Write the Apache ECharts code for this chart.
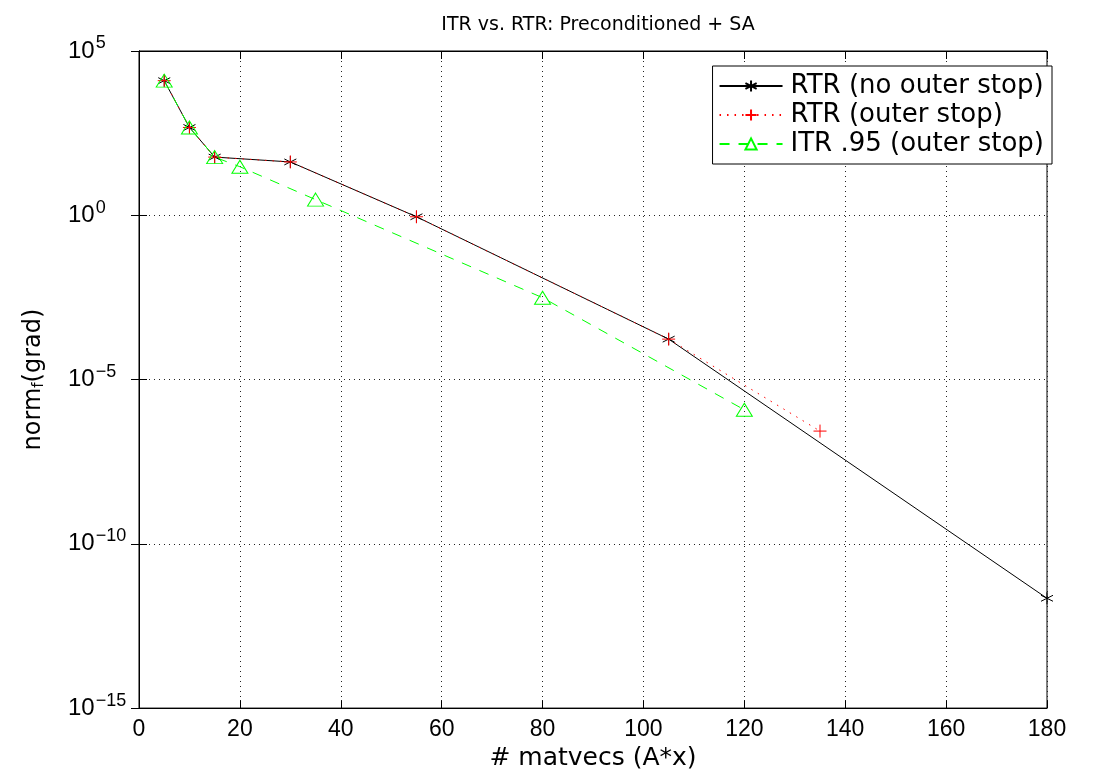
<!DOCTYPE html>
<html><head><meta charset="utf-8">
<script src="https://cdn.jsdelivr.net/npm/echarts@6/dist/echarts.min.js"></script>
<style>html,body{margin:0;padding:0;background:#fff}#c{width:1100px;height:776px}</style>
</head><body><div id="c"></div>
<script>
const titleText = 'ITR vs. RTR: Preconditioned + SA';
const xName = '# matvecs (A*x)';
const seriesNames = ['RTR (no outer stop)', 'RTR (outer stop)', 'ITR .95 (outer stop)'];
const rtrX = [5, 10, 15, 30, 55, 105, 180];
const rtrY = [1.25e4, 470, 59, 42, 0.9, 1.7e-4, 2.2e-12];
const rtrOuterX = [5, 10, 15, 30, 55, 105, 135];
const rtrOuterY = [1.25e4, 470, 59, 42, 0.9, 1.7e-4, 2.7e-7];
const itrX = [5, 10, 15, 20, 35, 80, 120];
const itrY = [1.25e4, 470, 59, 30, 3.0, 3.1e-3, 1.2e-6];
const xTicks = [0, 20, 40, 60, 80, 100, 120, 140, 160, 180];
const yTickExps = [-15, -10, -5, 0, 5];

const FONT = '"Liberation Sans", Arial, Helvetica, sans-serif';
const WFONT = '"DejaVu Sans", "Liberation Sans", sans-serif';
const pair = (xs, ys) => xs.map((x, i) => [x, ys[i]]);
const STAR = 'path://M0,-6L0,6M-5.2,-3L5.2,3M-5.2,3L5.2,-3';
const PLUS = 'path://M0,-6L0,6M-6,0L6,0';

const chart = echarts.init(document.getElementById('c'), null, {renderer: 'canvas'});
const expLabel = v => {
  const e = Math.round(Math.log10(v));
  return '{b|10}{s|' + (e < 0 ? '\u2212' + (-e) : String(e)) + '}';
};
const xAxisBase = {
  type: 'value', min: xTicks[0], max: xTicks[xTicks.length - 1], interval: 20,
  axisLine: {show: true, lineStyle: {color: '#000', width: 1}},
  axisTick: {show: true, inside: true, length: 8, lineStyle: {color: '#000'}},
};
const yAxisBase = {
  type: 'log', logBase: 10, min: Math.pow(10, yTickExps[0]), max: Math.pow(10, yTickExps[yTickExps.length - 1]), interval: 5,
  axisLine: {show: true, lineStyle: {color: '#000', width: 1}},
  axisTick: {show: true, inside: true, length: 8, lineStyle: {color: '#000'}},
  minorTick: {show: false},
};
const gridLine = {show: true, lineStyle: {color: '#222', width: 1, type: [1, 4]}};

chart.setOption({
  animation: false,
  backgroundColor: '#fff',
  title: {
    text: titleText, left: 593, top: 11, textAlign: 'center',
    textStyle: {fontFamily: WFONT, fontSize: 19, fontWeight: 'normal', color: '#000'}
  },
  grid: {left: 139, right: 53, top: 51, bottom: 60, show: true, borderColor: '#000', borderWidth: 1, containLabel: false},
  legend: {
    orient: 'vertical', right: 48, top: 66,
    padding: [7, 8, 7, 6], itemGap: 3, itemWidth: 63, itemHeight: 14,
    borderColor: '#000', borderWidth: 1, backgroundColor: '#fff',
    textStyle: {fontFamily: WFONT, fontSize: 26, color: '#000', padding: [0, 0, 0, 3]},
    data: seriesNames
  },
  xAxis: [
    Object.assign({}, xAxisBase, {
      position: 'bottom', name: xName, nameLocation: 'middle', nameGap: 30,
      nameTextStyle: {fontFamily: WFONT, fontSize: 25, color: '#000'},
      axisLabel: {show: true, margin: 10, fontFamily: FONT, fontSize: 23, color: '#000'},
      splitLine: gridLine
    }),
    Object.assign({}, xAxisBase, {position: 'top', axisLabel: {show: false}, splitLine: {show: false}})
  ],
  yAxis: [
    Object.assign({}, yAxisBase, {
      position: 'left',
      name: '{a|norm}{f|f}{a|(grad)}', nameLocation: 'middle', nameGap: 92, nameRotate: 90,
      nameTextStyle: {fontFamily: WFONT, fontSize: 24, color: '#000',
        rich: {a: {fontFamily: WFONT, fontSize: 24, color: '#000'},
               f: {fontFamily: WFONT, fontSize: 15, color: '#000', padding: [12, 0, 0, 0]}}},
      axisLabel: {
        show: true, margin: 71, align: 'left', color: '#000', formatter: expLabel,
        rich: {
          b: {fontFamily: FONT, fontSize: 24, color: '#000', lineHeight: 24},
          s: {fontFamily: FONT, fontSize: 18, color: '#000', padding: [0, 0, 15, 1]}
        }
      },
      splitLine: gridLine
    }),
    Object.assign({}, yAxisBase, {position: 'right', axisLabel: {show: false}, splitLine: {show: false}})
  ],
  series: [
    {
      name: seriesNames[0], type: 'line', data: pair(rtrX, rtrY), xAxisIndex: 0, yAxisIndex: 0,
      symbol: STAR, symbolSize: 12, showAllSymbol: true,
      lineStyle: {color: '#000', width: 1},
      itemStyle: {color: 'none', borderColor: '#000', borderWidth: 1},
      emphasis: {disabled: true}
    },
    {
      name: seriesNames[1], type: 'line', data: pair(rtrOuterX, rtrOuterY), xAxisIndex: 0, yAxisIndex: 0,
      symbol: PLUS, symbolSize: 13, showAllSymbol: true,
      lineStyle: {color: '#ff0000', width: 1, type: [1.5, 6]},
      itemStyle: {color: 'none', borderColor: '#ff0000', borderWidth: 1},
      emphasis: {disabled: true}
    },
    {
      name: seriesNames[2], type: 'line', data: pair(itrX, itrY), xAxisIndex: 0, yAxisIndex: 0,
      symbol: 'triangle', symbolSize: [16, 13], showAllSymbol: true,
      lineStyle: {color: '#00ff00', width: 1, type: [10, 9]},
      itemStyle: {color: 'rgba(0,0,0,0)', borderColor: '#00ff00', borderWidth: 1},
      emphasis: {disabled: true}
    }
  ]
});
</script>
</body></html>
